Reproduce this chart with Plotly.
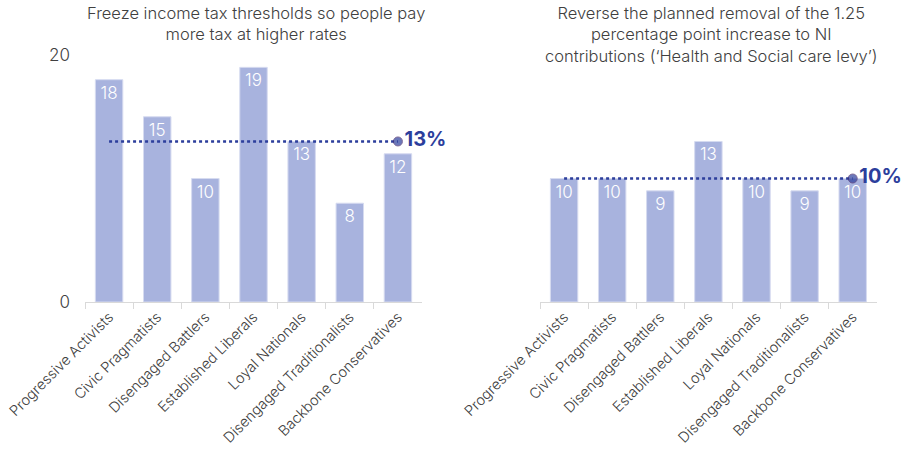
import plotly.graph_objects as go

segments = ["Progressive Activists", "Civic Pragmatists", "Disengaged Battlers",
            "Established Liberals", "Loyal Nationals", "Disengaged Traditionalists",
            "Backbone Conservatives"]
freeze_thresholds = [18, 15, 10, 19, 13, 8, 12]
freeze_avg = 13
reverse_ni = [10, 10, 9, 13, 10, 9, 10]
reverse_avg = 10
title_left = ["Freeze income tax thresholds so people pay", "more tax at higher rates"]
title_right = ["Reverse the planned removal of the 1.25", "percentage point increase to NI",
               "contributions (‘Health and Social care levy’)"]

BAR = "#A8B3DE"
NAVY = "#2C3E9C"
FONT = "Inter"
TEXT = "#404040"

fig = go.Figure()

panels = [(freeze_thresholds, freeze_avg, "x", "y"), (reverse_ni, reverse_avg, "x2", "y2")]
for vals, avg, xa, ya in panels:
    fig.add_trace(go.Bar(
        x=segments, y=vals, xaxis=xa, yaxis=ya,
        marker=dict(color=BAR, line=dict(color="#D6DBF0", width=1)),
        width=0.57,
        text=[str(v) for v in vals], textposition="inside", insidetextanchor="end",
        textfont=dict(color="white", size=17, family=FONT, weight=300),
        textangle=0, cliponaxis=False, showlegend=False,
    ))
    n = len(segments)
    fig.add_trace(go.Scatter(
        x=segments, y=[avg] * n, xaxis=xa, yaxis=ya,
        mode="lines+markers+text",
        line=dict(color=NAVY, width=2.5, dash="dot"),
        marker=dict(size=[0] * (n - 1) + [9], color=NAVY,
                    line=dict(color="#4A2D6E", width=1)),
        text=[""] * (n - 1) + [f"<b>{avg}%</b>"],
        textposition="middle right",
        textfont=dict(color=NAVY, size=20, family=FONT),
        cliponaxis=False, showlegend=False,
    ))

xcommon = dict(
    type="category", showgrid=False, showline=True, linecolor="#D9D9D9", linewidth=1,
    ticks="outside", tickson="boundaries", ticklen=6, tickcolor="#D9D9D9",
    tickangle=-45, tickfont=dict(size=14.5, color=TEXT, family=FONT, weight=300),
    automargin=False, zeroline=False,
)
ycommon = dict(
    range=[0, 20], tickvals=[0, 20], showgrid=True, gridcolor="#E3E3E3",
    griddash="dot", gridwidth=1, zeroline=False, showline=False,
    tickfont=dict(size=17, color=TEXT, family=FONT, weight=300), automargin=False,
    ticklabelstandoff=14,
)

y_dom = [0.3333, 0.8786]
fig.update_layout(
    width=920, height=453,
    margin=dict(l=0, r=0, t=0, b=0),
    paper_bgcolor="white", plot_bgcolor="white",
    font=dict(family=FONT, color=TEXT),
    bargap=0.4,
    xaxis=dict(domain=[0.0924, 0.4587], anchor="y", **xcommon),
    yaxis=dict(domain=y_dom, anchor="x", showticklabels=True, **ycommon),
    xaxis2=dict(domain=[0.587, 0.953], anchor="y2", **xcommon),
    yaxis2=dict(domain=y_dom, anchor="x2", showticklabels=False, **ycommon),
)

title_specs = [(title_left, 0.278), (title_right, 0.773)]
for lines, tx in title_specs:
    fig.add_annotation(
        text="<br>".join(lines), x=tx, y=0.997, xref="paper", yref="paper",
        xanchor="center", yanchor="top", showarrow=False,
        font=dict(size=16.5, color=TEXT, family=FONT, weight=300),
    )

fig.write_html("out.html")
